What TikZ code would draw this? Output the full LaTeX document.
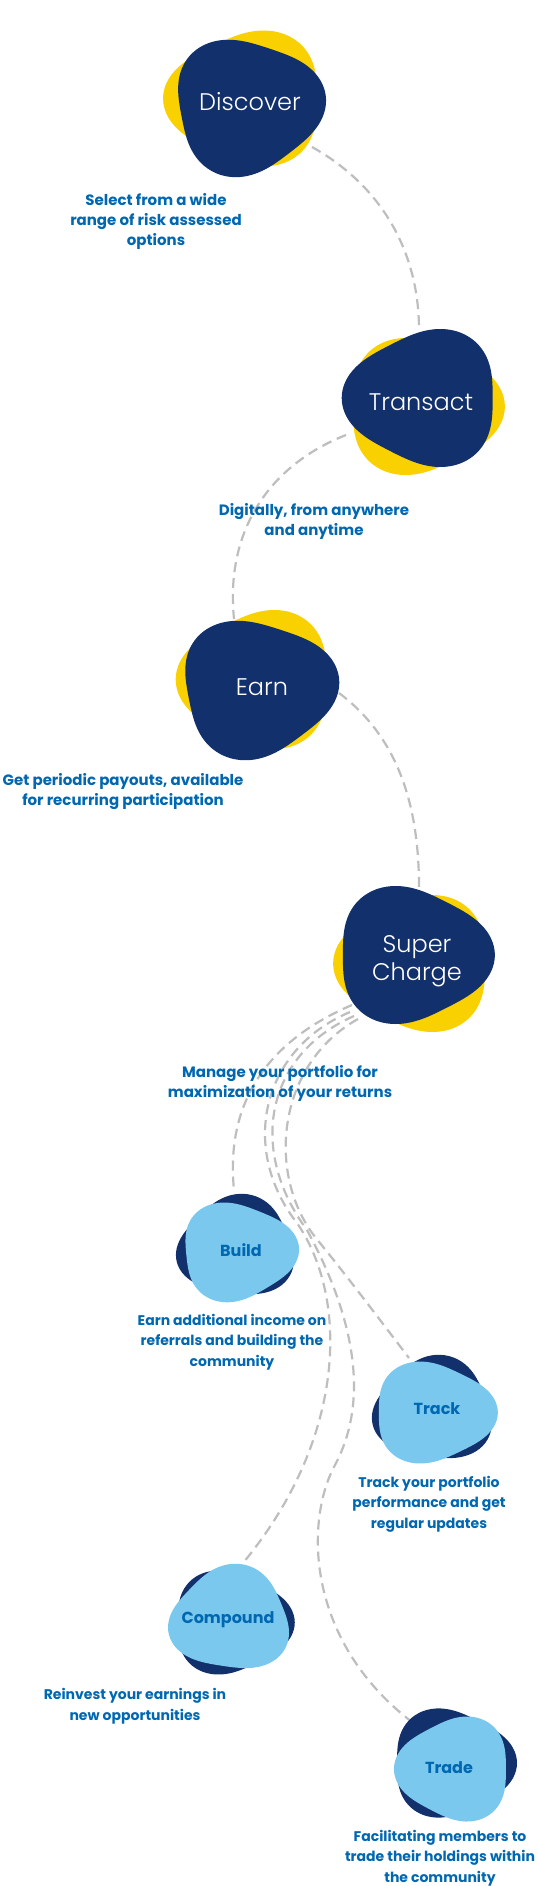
\documentclass[tikz,border=0pt]{standalone}
\usepackage{fontspec}
\setmainfont{Poppins}
\newfontfamily\lightfont{Poppins Light}
\usetikzlibrary{calc}
\definecolor{navy}{RGB}{18,48,107}
\definecolor{sun}{RGB}{249,208,0}
\definecolor{sky}{RGB}{122,200,238}
\definecolor{txtblue}{RGB}{0,103,177}
\definecolor{dashgray}{RGB}{190,190,190}
\pgfdeclarelayer{bg}
\pgfsetlayers{bg,main}
% cx cy rx ry a phase color
\newcommand{\blobshape}[7]{%
  \fill[#7] plot[domain=0:356,samples=90,smooth cycle,variable=\t]
  ({#1+#3*(1+#5*cos(3*(\t-#6)))*cos(\t)},{#2+#4*(1+#5*cos(3*(\t-#6)))*sin(\t)});}
\tikzset{
  title/.style={text=white,font=\lightfont\fontsize{24}{28}\selectfont,align=center,inner sep=0pt},
  subtitle/.style={text=txtblue,font=\fontsize{16}{18}\selectfont\bfseries,inner sep=0pt},
  desc/.style={text=txtblue,font=\fontsize{15}{20}\selectfont\bfseries,align=center,inner sep=0pt},
  smalldesc/.style={text=txtblue,font=\fontsize{14}{20.5}\selectfont\bfseries,align=center,inner sep=0pt},
  link/.style={draw=dashgray,line width=2.2pt,dash pattern=on 10pt off 6pt}
}
\begin{document}
\begin{tikzpicture}[x=1pt,y=-1pt]
\useasboundingbox (0,0) rectangle (536,1886);
% titles
\node[title] (disc) at (250,102) {Discover};
\node[title] (trans) at (421,402) {Transact};
\node[title] (earn) at (262,687) {Earn};
\node[title] (sc) at (417,961) {Super\\Charge};
\node[subtitle] (build) at (241,1250) {Build};
\node[subtitle] (track) at (437,1409) {Track};
\node[subtitle] (comp) at (228,1620) {Compound};
\node[subtitle] (trade) at (449,1768) {Trade};
% descriptions
\node[desc] (discd) at (156,221) {Select from a wide\\range of risk assessed\\options};
\node[desc] (transd) at (314,521) {Digitally, from anywhere\\and anytime};
\node[desc] (earnd) at (123,792) {Get periodic payouts, available\\for recurring participation};
\node[desc] (scd) at (280,1083) {Manage your portfolio for\\maximization of your returns};
\node[smalldesc] (buildd) at (232,1342) {Earn additional income on\\referrals and building the\\community};
\node[smalldesc] (trackd) at (429,1504) {Track your portfolio\\performance and get\\regular updates};
\node[smalldesc] (compd) at (135,1706) {Reinvest your earnings in\\new opportunities};
\node[smalldesc] (traded) at (440,1858) {Facilitating members to\\trade their holdings within\\the community};
\begin{pgfonlayer}{bg}
\fill[white] (0,0) rectangle (536,1886);
% connectors
\draw[link] ($(disc)+(62,45)$) .. controls ($(disc)+(130,83)$) and ($(trans)+(-2,-152)$) .. ($(trans)+(-2,-72)$);
\draw[link] ($(trans)+(-75,33)$) .. controls ($(trans)+(-151,63)$) and ($(earn)+(-37,-157)$) .. ($(earn)+(-28,-68)$);
\draw[link] ($(earn)+(77,6)$) .. controls ($(earn)+(133,48)$) and ($(sc)+(2,-161)$) .. ($(sc)+(2,-74)$);
\draw[link] ($(sc)+(-65,44)$) .. controls ($(sc)+(-147,79)$) and ($(build)+(-16,-150)$) .. ($(build)+(-7,-60)$);
\draw[link] ($(sc)+(-67,51)$) .. controls (260,1050) and (240,1150) .. (297,1223)
   .. controls (350,1300) and (345,1440) .. ($(comp)+(15,-57)$);
\draw[link] ($(sc)+(-63,55)$) .. controls (265,1055) and (248,1150) .. (307,1230)
   .. controls (345,1300) and (375,1390) .. (335,1465)
   .. controls (305,1520) and (305,1640) .. ($(trade)+(-37,-46)$);
\draw[link] ($(sc)+(-59,58)$) .. controls (275,1065) and (265,1180) .. (320,1243)
   .. controls (350,1280) and (380,1320) .. ($(track)+(-28,-51)$);
% blobs
\blobshape{247}{98.5}{77}{66}{0.09}{60}{sun}
\blobshape{247}{106}{73}{67}{0.09}{-10}{navy}
\blobshape{422}{406.5}{76}{66.5}{0.09}{0}{sun}
\blobshape{424}{398}{75.5}{67}{0.09}{60}{navy}
\blobshape{258}{679.5}{75.5}{67.5}{0.09}{60}{sun}
\blobshape{257}{688}{76}{68}{0.09}{-10}{navy}
\blobshape{416}{963.5}{76}{66.5}{0.09}{60}{sun}
\blobshape{412}{955}{76}{67}{0.09}{0}{navy}
\blobshape{237}{1247.4}{57.5}{49.5}{0.09}{40}{navy}
\blobshape{237.6}{1251.5}{56.5}{48.5}{0.09}{-5}{sky}
\blobshape{434}{1410}{58.5}{51}{0.09}{40}{navy}
\blobshape{433}{1412.5}{59.5}{49.5}{0.09}{0}{sky}
\blobshape{231}{1622.5}{58.5}{50.5}{0.09}{0}{navy}
\blobshape{230.7}{1619.5}{59}{51.5}{0.09}{40}{sky}
\blobshape{451.6}{1763}{60}{53}{0.09}{0}{navy}
\blobshape{455}{1769}{56}{51}{0.09}{60}{sky}
\end{pgfonlayer}
\end{tikzpicture}
\end{document}
